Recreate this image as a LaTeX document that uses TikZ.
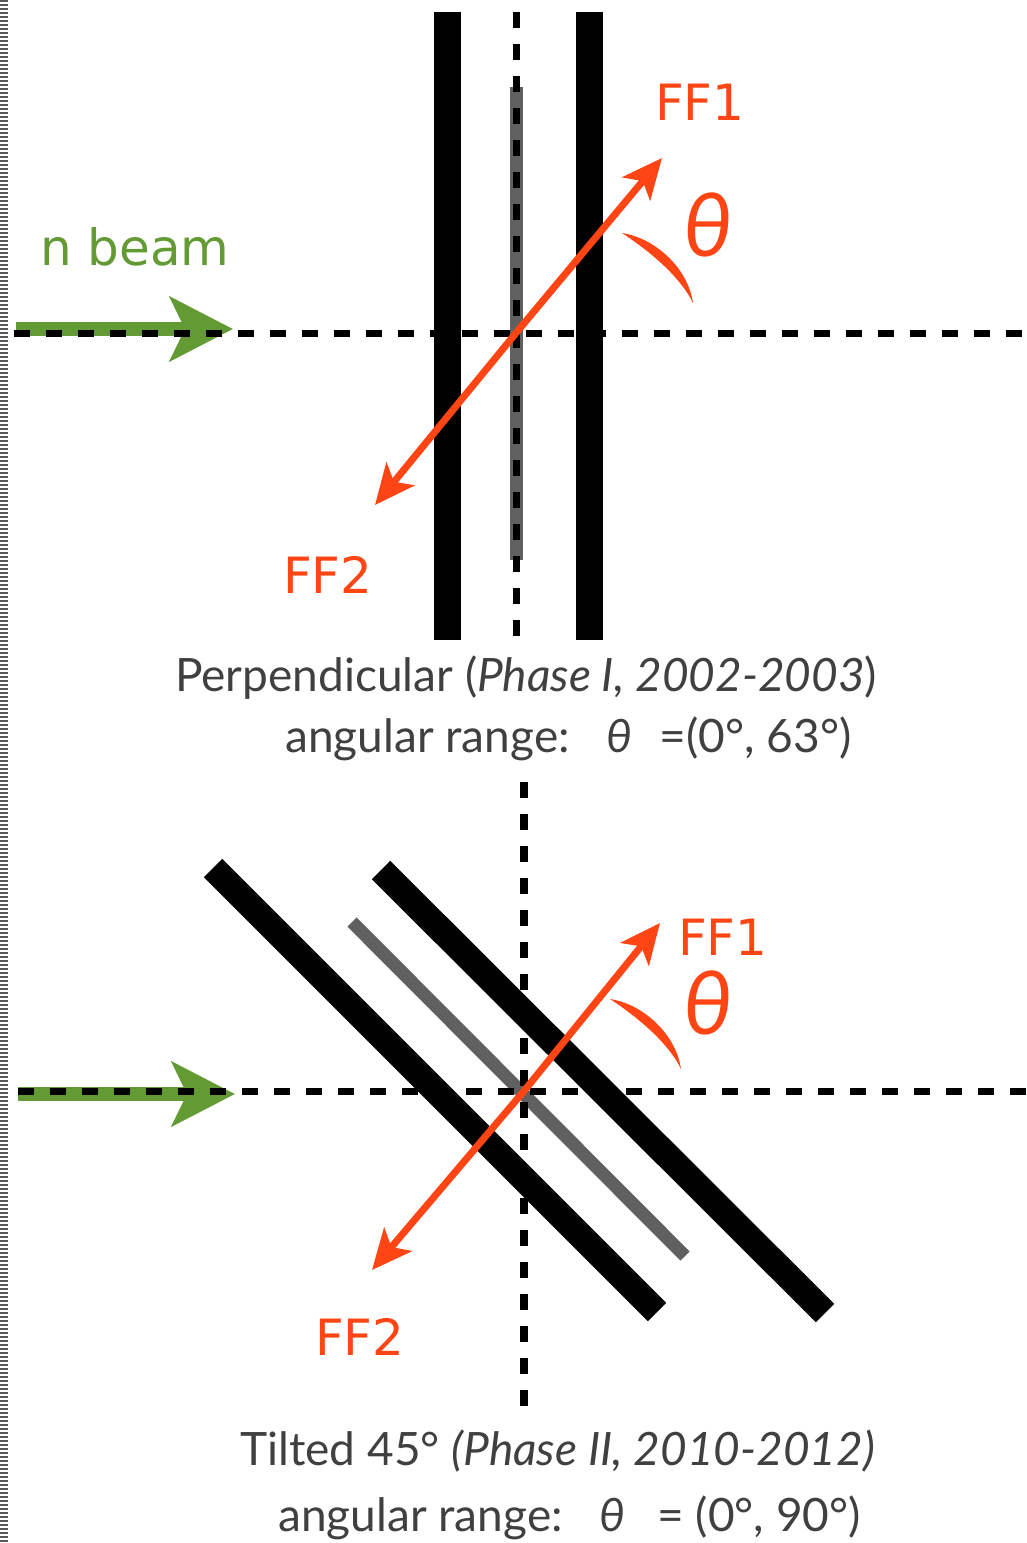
\documentclass[tikz,border=0pt]{standalone}
\usepackage{fontspec}
\setmainfont{Lato}
\newfontfamily\labelfont{DejaVu Sans}
\usetikzlibrary{arrows.meta}

\definecolor{ffred}{RGB}{255,69,19}
\definecolor{beamgreen}{RGB}{99,154,52}
\definecolor{captiongray}{RGB}{64,64,64}
\definecolor{foilgray}{RGB}{96,96,96}

\tikzset{
    plate/.style={line width=27pt, black},
    foil/.style={line width=13pt, foilgray},
    axisline/.style={line width=7pt, dash pattern=on 16pt off 16pt},
    ffarrow/.style={ffred, line width=7pt, -{Stealth[length=40pt,width=36pt,inset=10pt]}},
    beamarrow/.style={beamgreen, line width=14pt, -{Stealth[length=63pt,width=64pt,inset=15pt]}},
    fflabel/.style={ffred, font=\labelfont\fontsize{50}{60}\selectfont, inner sep=0pt, anchor=base west},
    thetalabel/.style={ffred, font=\fontsize{88}{100}\selectfont\itshape, inner sep=0pt},
    caption/.style={captiongray, font=\fontsize{46}{56}\selectfont, inner sep=0pt, anchor=base west}
}

\begin{document}
\begin{tikzpicture}[x=1pt, y=-1pt]
    \useasboundingbox (0,0) rectangle (1026,1543);
    \draw[gray!70!black, line width=8pt, dash pattern=on 2pt off 2pt] (4,0) -- (4,1543);

    % perpendicular setup
    \begin{scope}
        \coordinate (c1) at (516,333);
        \coordinate (ff1tip) at (662,158);
        \coordinate (ff2tip) at (375,505);

        \draw[plate] (447.5,12) -- (447.5,640);
        \draw[plate] (589.5,12) -- (589.5,640);
        \draw[foil] (516.5,87) -- (516.5,560);

        \draw[beamarrow] (16,329) -- (233,329);
        \draw[axisline] (516,12) -- (516,636);
        \draw[axisline] (14,333) -- (1022,333);

        \draw[ffarrow] (c1) -- (ff1tip);
        \draw[ffarrow] (c1) -- (ff2tip);
        \fill[ffred] (622,233) .. controls (655,238) and (688,268) .. (693,303)
                            .. controls (680,276) and (648,250) .. cycle;

        \node[beamgreen, font=\labelfont\fontsize{50}{60}\selectfont, inner sep=0pt, anchor=base west] (beam) at (40,265) {n beam};
        \node[fflabel] (ff1a) at (655,120) {FF1};
        \node[fflabel] (ff2a) at (283,593) {FF2};
        \node[thetalabel] (thetaa) at (708,225) {θ};

        \node[caption] (capa) at (175,691) {Perpendicular (\textit{Phase I, 2002-2003})};
        \node[caption] (rangea) at (285,752) {angular range:\hspace{0.8em}\textit{θ}\hspace{0.6em}=(0°, 63°)};
    \end{scope}

    % tilted setup
    \begin{scope}
        \coordinate (c2) at (524,1091);
        \coordinate (ff1tipb) at (660,923);
        \coordinate (ff2tipb) at (372,1270);

        \draw[plate, line width=26pt] (213,868) -- (657,1312);
        \draw[plate, line width=26pt] (381,870) -- (825,1313);
        \draw[foil] (352,922) -- (685,1256);

        \draw[beamarrow] (18,1094) -- (235,1094);
        \draw[axisline, line width=8pt] (524,782) -- (524,1406);
        \draw[axisline] (18,1091) -- (1026,1091);

        \draw[ffarrow] (c2) -- (ff1tipb);
        \draw[ffarrow] (c2) -- (ff2tipb);
        \begin{scope}[shift={(-12,766)}]
            \fill[ffred] (622,233) .. controls (655,238) and (688,268) .. (693,303)
                                .. controls (680,276) and (648,250) .. cycle;
        \end{scope}

        \node[fflabel] (ff1b) at (678,955) {FF1};
        \node[fflabel] (ff2b) at (315,1355) {FF2};
        \node[thetalabel] (thetab) at (708,1003) {θ};

        \node[caption] (capb) at (240,1465) {Tilted 45° \textit{(Phase II, 2010-2012)}};
        \node[caption] (rangeb) at (278,1531) {angular range:\hspace{0.8em}\textit{θ}\hspace{0.7em}= (0°, 90°)};
    \end{scope}
\end{tikzpicture}
\end{document}
